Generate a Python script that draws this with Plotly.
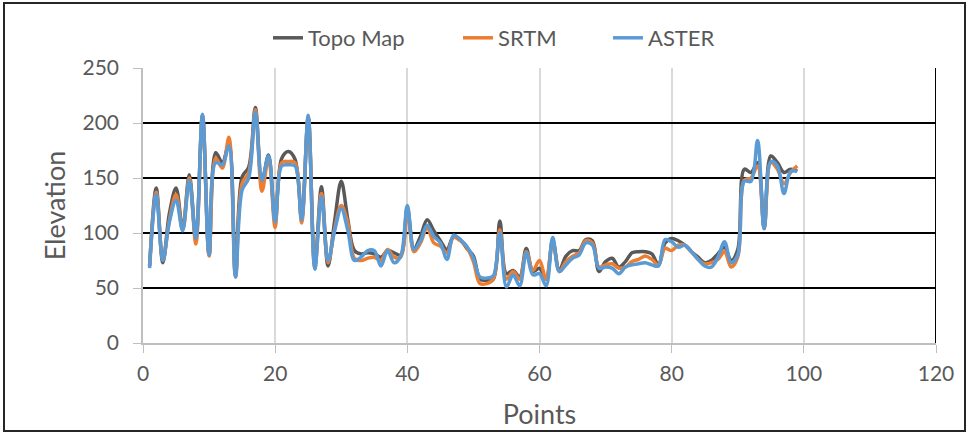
import plotly.graph_objects as go

points = list(range(1, 100))

topo_map = [70, 141, 73, 118, 141, 104, 153, 95, 207, 80,
            173, 164, 181, 62, 151, 160, 214, 147, 171, 110,
            168, 174, 167, 113, 205, 70, 142, 70, 111, 147,
            112, 84, 81, 82, 81, 78, 84, 82, 80, 123,
            86, 97, 112, 102, 93, 85, 97, 94, 86, 79,
            58, 57, 58, 111, 63, 66, 60, 86, 65, 68,
            58, 93, 66, 79, 84, 84, 94, 93, 65, 74,
            77, 69, 74, 82, 83, 83, 81, 71, 91, 95,
            93, 89, 83, 78, 73, 75, 81, 87, 75, 85,
            158, 155, 164, 104, 170, 164, 155, 158, 156]

srtm = [70, 137, 75, 112, 135, 103, 150, 90, 207, 79,
        168, 159, 187, 60, 145, 155, 212, 138, 168, 105,
        164, 165, 164, 109, 206, 68, 136, 73, 104, 125,
        109, 77, 75, 77, 78, 75, 85, 78, 78, 120,
        83, 91, 105, 91, 88, 82, 96, 93, 87, 74,
        54, 54, 58, 103, 58, 65, 58, 83, 66, 75,
        58, 93, 65, 74, 79, 82, 93, 91, 69, 71,
        72, 68, 69, 74, 76, 79, 76, 71, 86, 84,
        89, 89, 83, 76, 72, 73, 76, 83, 69, 78,
        148, 150, 161, 104, 164, 158, 145, 155, 161]

aster = [68, 135, 75, 110, 130, 102, 148, 95, 208, 80,
         164, 162, 179, 60, 139, 150, 210, 148, 170, 110,
         161, 162, 161, 112, 207, 67, 133, 75, 102, 122,
         102, 75, 78, 84, 84, 70, 84, 73, 79, 125,
         85, 93, 107, 97, 91, 76, 98, 94, 88, 77,
         60, 59, 61, 100, 51, 62, 52, 82, 62, 63,
         52, 96, 65, 71, 77, 80, 91, 89, 68, 69,
         68, 63, 69, 71, 72, 73, 71, 70, 94, 92,
         87, 89, 83, 76, 70, 69, 78, 92, 73, 80,
         147, 147, 184, 104, 165, 161, 136, 156, 156]

x_ticks = [0, 20, 40, 60, 80, 100, 120]
y_ticks = [0, 50, 100, 150, 200, 250]

FONT = "Lato, 'Open Sans', sans-serif"
TXT = "#595959"

L, R, T, B = 143, 33, 68, 92
W, H = 969, 435
pw, ph = W - L - R, H - T - B

def px_x(p):
    return (p - L) / pw

def px_y(p):
    return (H - B - p) / ph

fig = go.Figure()
series = [("Topo Map", topo_map, "#595959", "legend", 268),
          ("SRTM", srtm, "#ED7D31", "legend2", 458),
          ("ASTER", aster, "#5B9BD5", "legend3", 608)]
legends = {}
for name, vals, col, leg, lx in series:
    fig.add_trace(go.Scatter(x=points, y=vals, mode="lines", name=name, legend=leg,
                             line=dict(color=col, width=3.5, shape="spline", smoothing=1.0)))
    legends[leg] = dict(x=px_x(lx), xanchor="left", y=px_y(38), yanchor="middle",
                        orientation="h", font=dict(size=22, color=TXT),
                        bgcolor="rgba(0,0,0,0)")

fig.update_layout(
    width=W, height=H,
    margin=dict(l=L, r=R, t=T, b=B, pad=0),
    paper_bgcolor="white", plot_bgcolor="white",
    font=dict(family=FONT, color=TXT, size=21),
    showlegend=True,
    **legends,
    xaxis=dict(range=[0, 120], tickvals=x_ticks, showgrid=True, gridcolor="#D9D9D9",
               gridwidth=1.5, showline=True, linecolor="#BFBFBF", linewidth=1.5,
               ticks="outside", ticklen=8, tickcolor="#BFBFBF", zeroline=False,
               tickfont=dict(size=21, color=TXT), ticklabelstandoff=3, automargin=False,
               title=dict(text="Points", font=dict(size=27, color=TXT), standoff=21)),
    yaxis=dict(range=[0, 250], tickvals=y_ticks, showgrid=True, gridcolor="#000000",
               gridwidth=2, showline=True, linecolor="#BFBFBF", linewidth=1.5,
               ticks="outside", ticklen=8, tickcolor="#BFBFBF", zeroline=False,
               tickfont=dict(size=21, color=TXT), ticklabelstandoff=10, automargin=False,
               title=dict(text="Elevation", font=dict(size=27, color=TXT), standoff=9)),
    shapes=[
        dict(type="line", xref="x", yref="y", x0=120, x1=120, y0=0, y1=250,
             line=dict(color="#000000", width=2), layer="above"),
        dict(type="rect", xref="paper", yref="paper",
             x0=px_x(4), x1=px_x(965), y0=px_y(431), y1=px_y(3),
             line=dict(color="#262626", width=2), layer="above"),
    ],
)

fig.write_html("out.html", config={"displayModeBar": False},
               post_script="document.body.style.margin='0';document.body.style.overflow='hidden';")
